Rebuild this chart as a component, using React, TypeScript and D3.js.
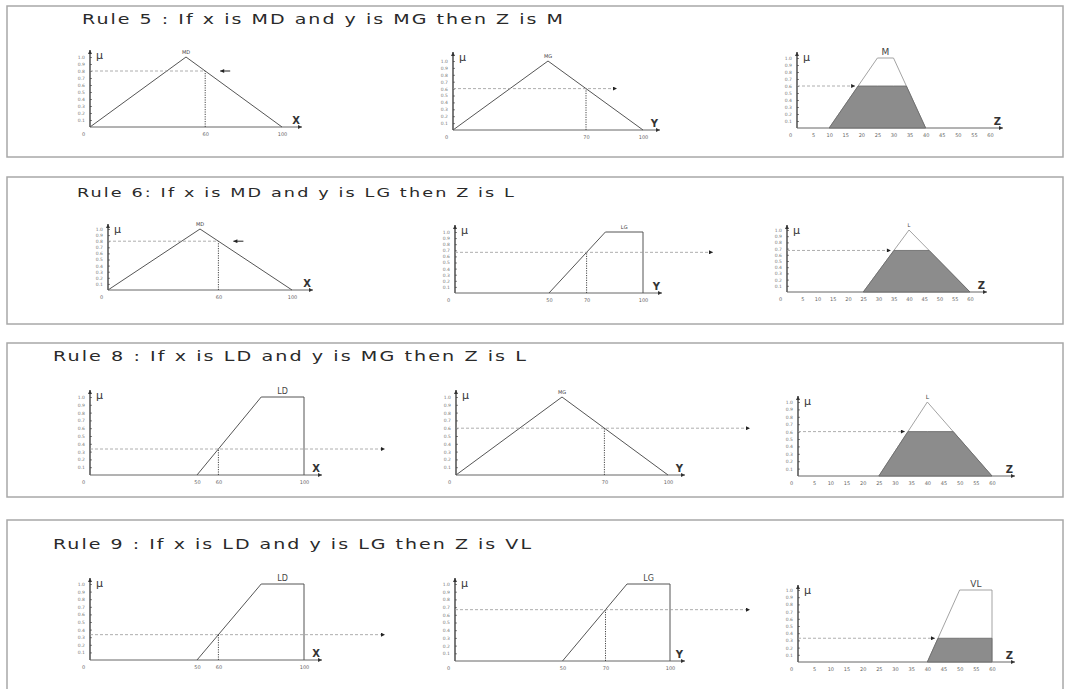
import React, { useEffect, useRef } from "react";
import * as d3 from "d3";

// one title per rule panel
const ruleTitles = [
  "Rule 5 : If x is MD and y is MG then Z is M",
  "Rule 6: If x is MD and y is LG then Z is L",
  "Rule 8 : If x is LD and y is MG then Z is L",
  "Rule 9 : If x is LD and y is LG then Z is VL",
];

// membership functions as (value, mu) breakpoints
const MD = [[0, 0], [50, 1], [100, 0]];
const MG = [[0, 0], [50, 1], [100, 0]];
const LD = [[50, 0], [80, 1], [100, 1], [100, 0]];
const LG = [[50, 0], [80, 1], [100, 1], [100, 0]];
const M = [[10, 0], [25, 1], [30, 1], [40, 0]];
const L = [[25, 0], [40, 1], [60, 0]];
const VL = [[40, 0], [50, 1], [60, 1], [60, 0]];

const xSetNames = ["MD", "MD", "LD", "LD"];
const ySetNames = ["MG", "LG", "MG", "LG"];
const zSetNames = ["M", "L", "L", "VL"];
const xInputs = [60, 60, 60, 60];
const yInputs = [70, 70, 70, 70];
const zLevels = [0.6, 0.67, 0.6, 0.33]; // clip height

const xTickLabels = [[0, 60, 100], [0, 60, 100], [0, 50, 60, 100], [0, 50, 60, 100]];
const yTickLabels = [[0, 70, 100], [0, 50, 70, 100], [0, 70, 100], [0, 50, 70, 100]];
const zTickLabels = [0, 5, 10, 15, 20, 25, 30, 35, 40, 45, 50, 55, 60];
const muTicks = [0.1, 0.2, 0.3, 0.4, 0.5, 0.6, 0.7, 0.8, 0.9, 1.0];

const sets: Record<string, number[][]> = { MD, MG, LD, LG, M, L, VL };

// layout only (pixels)
const panels = [
  {
    box: [7, 6, 1056, 151], title: [82, 24, 483, 14],
    charts: [
      { x0: 90, x1: 282, yB: 127, yT: 57, top: 50, xEnd: 302, dashEnd: null, name: 5 },
      { x0: 453, x1: 643, yB: 130, yT: 61, top: 52, xEnd: 660, dashEnd: 617, name: 5 },
      { x0: 797, x1: 990, yB: 128, yT: 58, top: 52, xEnd: 1003, dashEnd: 0, name: 9 },
    ],
  },
  {
    box: [7, 177, 1056, 147], title: [77, 197, 439, 12.5],
    charts: [
      { x0: 108, x1: 292, yB: 290, yT: 229, top: 224, xEnd: 313, dashEnd: null, name: 5 },
      { x0: 455, x1: 643, yB: 293, yT: 232, top: 225, xEnd: 662, dashEnd: 713, name: 5 },
      { x0: 787, x1: 970, yB: 292, yT: 230, top: 225, xEnd: 987, dashEnd: 0, name: 5 },
    ],
  },
  {
    box: [7, 343, 1056, 154], title: [53, 361, 475, 14],
    charts: [
      { x0: 90, x1: 304, yB: 475, yT: 397, top: 390, xEnd: 322, dashEnd: 385, name: 8 },
      { x0: 456, x1: 668, yB: 475, yT: 397, top: 390, xEnd: 685, dashEnd: 750, name: 5 },
      { x0: 798, x1: 992, yB: 476, yT: 402, top: 396, xEnd: 1015, dashEnd: 0, name: 6 },
    ],
  },
  {
    box: [7, 520, 1056, 190], title: [53, 549, 480, 14],
    charts: [
      { x0: 90, x1: 304, yB: 660, yT: 584, top: 578, xEnd: 322, dashEnd: 385, name: 8 },
      { x0: 455, x1: 670, yB: 661, yT: 584, top: 578, xEnd: 685, dashEnd: 750, name: 8 },
      { x0: 798, x1: 992, yB: 662, yT: 590, top: 585, xEnd: 1015, dashEnd: 0, name: 9 },
    ],
  },
];

function muAt(pts: number[][], v: number) {
  for (let i = 0; i < pts.length - 1; i++) {
    const [a, ma] = pts[i];
    const [b, mb] = pts[i + 1];
    if (a !== b && v >= a && v <= b) return ma + ((v - a) / (b - a)) * (mb - ma);
  }
  return 0;
}

function clipSet(pts: number[][], level: number) {
  const out: number[][] = [];
  for (let i = 0; i < pts.length; i++) {
    const [a, ma] = pts[i];
    out.push([a, Math.min(ma, level)]);
    if (i < pts.length - 1) {
      const [b, mb] = pts[i + 1];
      if ((ma - level) * (mb - level) < 0) {
        const t = (level - ma) / (mb - ma);
        out.push([a + t * (b - a), level]);
      }
    }
  }
  return out;
}

const FONT = "DejaVu Sans, Verdana, sans-serif";

export default function App() {
  const ref = useRef<SVGSVGElement>(null);

  useEffect(() => {
    const svg = d3.select(ref.current);
    svg.selectAll("*").remove();

    const defs = svg.append("defs");
    defs.append("marker").attr("id", "head")
      .attr("viewBox", "0 0 10 10").attr("refX", 10).attr("refY", 5)
      .attr("markerWidth", 9).attr("markerHeight", 4).attr("markerUnits", "userSpaceOnUse")
      .attr("orient", "auto")
      .append("path").attr("d", "M0,0L10,5L0,10z").attr("fill", "#222");
    defs.append("marker").attr("id", "axhead")
      .attr("viewBox", "0 0 10 10").attr("refX", 10).attr("refY", 5)
      .attr("markerWidth", 5).attr("markerHeight", 4).attr("markerUnits", "userSpaceOnUse")
      .attr("orient", "auto")
      .append("path").attr("d", "M0,0L10,5L0,10z").attr("fill", "#333");

    const line = d3.line<number[]>();

    ruleTitles.forEach((title, p) => {
      const lay = panels[p];
      const g = svg.append("g");

      g.append("rect")
        .attr("x", lay.box[0]).attr("y", lay.box[1])
        .attr("width", lay.box[2]).attr("height", lay.box[3])
        .attr("fill", "none").attr("stroke", "#a8a8a8").attr("stroke-width", 1.5);

      g.append("text")
        .attr("x", lay.title[0]).attr("y", lay.title[1])
        .attr("textLength", lay.title[2]).attr("lengthAdjust", "spacingAndGlyphs")
        .attr("letter-spacing", 1.5)
        .attr("font-family", FONT).attr("font-size", lay.title[3]).attr("fill", "#2a2a2a")
        .text(title);

      ["x", "y", "z"].forEach((kind, c) => {
        const ch = lay.charts[c];
        const setName = kind === "x" ? xSetNames[p] : kind === "y" ? ySetNames[p] : zSetNames[p];
        const pts = sets[setName];
        const xs = d3.scaleLinear().domain([0, kind === "z" ? 60 : 100]).range([ch.x0, ch.x1]);
        const ys = d3.scaleLinear().domain([0, 1]).range([ch.yB, ch.yT]);
        const cg = g.append("g");

        // mu tick labels
        const ya = cg.append("g").attr("transform", `translate(${ch.x0},0)`)
          .call(d3.axisLeft(ys).tickValues(muTicks).tickSize(2).tickPadding(3).tickFormat(d3.format(".1f")));
        ya.select(".domain").remove();
        ya.selectAll("line").attr("stroke", "#888").attr("transform", "translate(2,0)");
        ya.selectAll("text").attr("font-size", 4.5).attr("font-family", FONT).attr("fill", "#777");

        // x tick labels
        const tv = kind === "x" ? xTickLabels[p] : kind === "y" ? yTickLabels[p] : zTickLabels;
        const xa = cg.append("g").attr("transform", `translate(0,${ch.yB})`)
          .call(d3.axisBottom(xs).tickValues(tv).tickSize(0).tickPadding(5));
        xa.select(".domain").remove();
        xa.selectAll("text").attr("font-size", 5).attr("font-family", FONT).attr("fill", "#666")
          .attr("dx", (d: any) => (d === 0 ? -7 : 0));

        // axes with arrowheads
        cg.append("line").attr("x1", ch.x0).attr("y1", ch.yB).attr("x2", ch.x0).attr("y2", ch.top)
          .attr("stroke", "#333").attr("stroke-width", 1.3).attr("marker-end", "url(#axhead)");
        cg.append("line").attr("x1", ch.x0).attr("y1", ch.yB).attr("x2", ch.xEnd).attr("y2", ch.yB)
          .attr("stroke", "#666").attr("stroke-width", 1).attr("marker-end", "url(#axhead)");

        cg.append("text").attr("x", ch.x0 + 6).attr("y", ch.top + 9)
          .attr("font-family", FONT).attr("font-size", 11).attr("fill", "#333").text("μ");
        cg.append("text").attr("x", ch.xEnd - 2).attr("y", ch.yB - 3).attr("text-anchor", "end")
          .attr("font-family", FONT).attr("font-size", 10).attr("font-weight", "bold").attr("fill", "#333")
          .text(kind === "x" ? "X" : kind === "y" ? "Y" : "Z");

        // set name over the top plateau
        const tops = pts.filter((d) => d[1] === 1).map((d) => d[0]);
        cg.append("text").attr("x", xs(d3.mean(tops) as number)).attr("y", ch.yT - 3)
          .attr("text-anchor", "middle").attr("font-family", FONT).attr("font-size", ch.name)
          .attr("fill", "#444").text(setName);

        if (kind !== "z") {
          const v = kind === "x" ? xInputs[p] : yInputs[p];
          const m = muAt(pts, v);
          const ix = xs(v);
          const iy = ys(m);

          cg.append("path").attr("d", line(pts.map((d) => [xs(d[0]), ys(d[1])])))
            .attr("fill", "none").attr("stroke", "#555").attr("stroke-width", 1);

          cg.append("line").attr("x1", ix).attr("y1", ch.yB).attr("x2", ix).attr("y2", iy)
            .attr("stroke", "#333").attr("stroke-width", 0.9).attr("stroke-dasharray", "1.2,1.2");

          if (ch.dashEnd === null) {
            cg.append("line").attr("x1", ch.x0).attr("y1", iy).attr("x2", ix).attr("y2", iy)
              .attr("stroke", "#999").attr("stroke-width", 0.8).attr("stroke-dasharray", "3,2");
            cg.append("line").attr("x1", ix + 25).attr("y1", iy).attr("x2", ix + 15).attr("y2", iy)
              .attr("stroke", "#222").attr("stroke-width", 1).attr("marker-end", "url(#head)");
          } else {
            cg.append("line").attr("x1", ch.x0).attr("y1", iy).attr("x2", ch.dashEnd).attr("y2", iy)
              .attr("stroke", "#999").attr("stroke-width", 0.8).attr("stroke-dasharray", "3,2")
              .attr("marker-end", "url(#head)");
          }
        } else {
          const a = zLevels[p];
          const clipped = clipSet(pts, a);

          cg.append("path").attr("d", line(pts.map((d) => [xs(d[0]), ys(d[1])])))
            .attr("fill", "none").attr("stroke", "#999").attr("stroke-width", 0.9);
          cg.append("path").attr("d", line(clipped.map((d) => [xs(d[0]), ys(d[1])])) + "Z")
            .attr("fill", "#8c8c8c").attr("stroke", "#666").attr("stroke-width", 0.8);

          const first = clipped.find((d) => d[1] === a) as number[];
          cg.append("line").attr("x1", ch.x0).attr("y1", ys(a)).attr("x2", xs(first[0]) - 3).attr("y2", ys(a))
            .attr("stroke", "#999").attr("stroke-width", 0.8).attr("stroke-dasharray", "3,2")
            .attr("marker-end", "url(#head)");
        }
      });
    });
  }, []);

  return (
    <div style={{ position: "absolute", left: 0, top: 0 }}>
      <svg ref={ref} width={1067} height={689} style={{ display: "block", background: "#fff" }} />
    </div>
  );
}
